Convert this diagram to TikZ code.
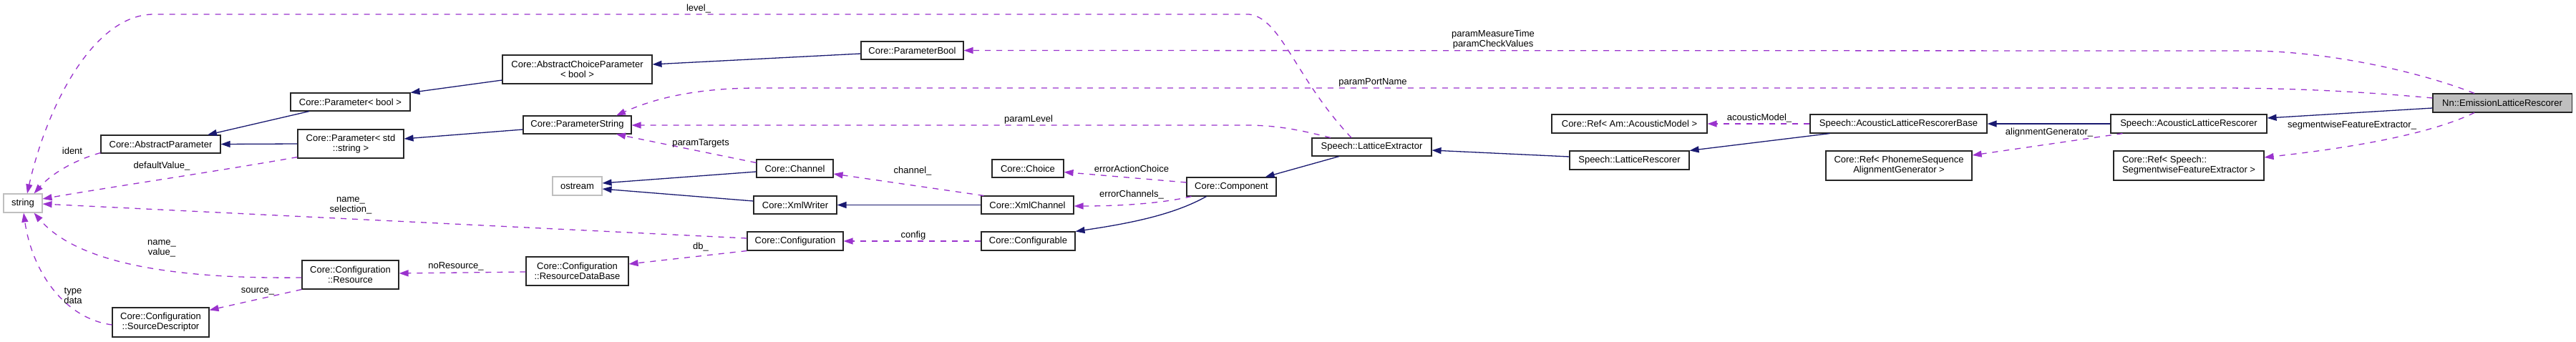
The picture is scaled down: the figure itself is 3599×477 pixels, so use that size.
\documentclass[tikz,border=0pt]{standalone}
\usepackage{fontspec}
\setmainfont{Liberation Sans}
\usetikzlibrary{arrows.meta,calc}
\definecolor{inhcol}{HTML}{191970}
\definecolor{usecol}{HTML}{9A32CD}
\begin{document}
\begin{tikzpicture}[x=1pt,y=-1pt,
  box/.style={draw=black!85,line width=1.1pt,fill=white,minimum height=25pt,inner sep=0pt,font=\fontsize{13}{14}\selectfont,align=center},
  extbox/.style={box,draw=black!25},
  inharrow/.style={draw=inhcol,line width=1.3pt,-{Triangle[length=13pt,width=9pt]}},
  usearrow/.style={draw=usecol,line width=1.3pt,dash pattern=on 8pt off 8pt,-{Triangle[length=13pt,width=9pt]}},
  lbl/.style={font=\fontsize{13}{14}\selectfont,inner sep=0pt,align=center},
]
\useasboundingbox (0,0) rectangle (3599,477);
% nodes
\node[extbox,minimum width=54pt,minimum height=26pt] (str) at (32,284) {string};
\node[box,minimum width=167pt] (AP) at (224.5,201.5) {Core::AbstractParameter};
\node[box,minimum width=135pt,minimum height=41pt] (SD) at (224.5,450.5) {Core::Configuration\\::SourceDescriptor};
\node[box,minimum width=167pt] (PB) at (489.5,142.5) {Core::Parameter< bool >};
\node[box,minimum width=148pt,minimum height=40pt] (PSS) at (490,201) {Core::Parameter< std\\::string >};
\node[box,minimum width=135pt,minimum height=40pt] (Res) at (489.5,384) {Core::Configuration\\::Resource};
\node[box,minimum width=209pt,minimum height=40pt] (ACP) at (806.5,97) {Core::AbstractChoiceParameter\\< bool >};
\node[box,minimum width=151pt] (PS) at (806.5,174.5) {Core::ParameterString};
\node[extbox,minimum width=69pt,minimum height=26pt] (ost) at (806.5,260) {ostream};
\node[box,minimum width=143pt,minimum height=40pt] (RDB) at (806.5,379) {Core::Configuration\\::ResourceDataBase};
\node[box,minimum width=143pt] (PBo) at (1274.5,70.5) {Core::ParameterBool};
\node[box,minimum width=107pt] (Chan) at (1110.5,235.5) {Core::Channel};
\node[box,minimum width=116pt] (XW) at (1111,286.5) {Core::XmlWriter};
\node[box,minimum width=134pt,minimum height=26pt] (Conf) at (1111,337) {Core::Configuration};
\node[box,minimum width=100pt] (Choi) at (1436,235.5) {Core::Choice};
\node[box,minimum width=129pt] (XC) at (1435.5,286.5) {Core::XmlChannel};
\node[box,minimum width=131pt,minimum height=26pt] (Cfg) at (1436.5,337) {Core::Configurable};
\node[box,minimum width=125pt,minimum height=26pt] (Comp) at (1720.5,261) {Core::Component};
\node[box,minimum width=167pt] (LE) at (1916.5,205.5) {Speech::LatticeExtractor};
\node[box,minimum width=217pt,minimum height=26pt] (RAM) at (2276.5,173) {Core::Ref< Am::AcousticModel >};
\node[box,minimum width=167pt,minimum height=26pt] (LR) at (2276.5,224) {Speech::LatticeRescorer};
\node[box,minimum width=247pt,minimum height=26pt] (ALRB) at (2652.5,173) {Speech::AcousticLatticeRescorerBase};
\node[box,minimum width=204pt,minimum height=41pt] (PSAG) at (2653,231.5) {Core::Ref< PhonemeSequence\\AlignmentGenerator >};
\node[box,minimum width=218pt,minimum height=26pt] (ALR) at (3058,173) {Speech::AcousticLatticeRescorer};
\node[box,minimum width=210pt,minimum height=41pt,align=left] (SFE) at (3058,231.5) {Core::Ref< Speech::\\SegmentwiseFeatureExtractor >};
\node[box,fill=black!25,minimum width=194pt,minimum height=26pt] (ELR) at (3496,144) {Nn::EmissionLatticeRescorer};

% inheritance
\draw[inharrow] ($(ACP.west)+(0,15)$) -- (PB.north east);
\draw[inharrow] ($(PBo.west)+(0,4.5)$) -- ($(ACP.east)+(0,-7)$);
\draw[inharrow] ($(PB.south)+(-57.5,0)$) -- ($(AP.north)+(65.5,0)$);
\draw[inharrow] (PSS.west) -- (AP.east);
\draw[inharrow] ($(PS.west)+(0,6.5)$) -- ($(PSS.east)+(0,-7)$);
\draw[inharrow] ($(Chan.west)+(0,4.5)$) -- ($(ost.east)+(0,-4)$);
\draw[inharrow] ($(XW.west)+(0,-5.5)$) -- ($(ost.east)+(0,4)$);
\draw[inharrow] (XC.west) -- (XW.east);
\draw[inharrow] ($(Comp.south west)+(28,0)$) .. controls (1640,300) and (1580,312) .. (Cfg.north east);
\draw[inharrow] ($(LE.south)+(-45.5,0)$) -- ($(Comp.north east)+(-16,0)$);
\draw[inharrow] ($(LR.west)+(0,-5)$) -- ($(LE.east)+(0,4.5)$);
\draw[inharrow] ($(ALRB.south west)+(28,0)$) -- (LR.north east);
\draw[inharrow] (ALR.west) -- (ALRB.east);
\draw[inharrow] ($(ELR.west)+(0,7)$) -- ($(ALR.east)+(0,-8)$);

% usage
\draw[usearrow] ($(LE.north)+(-28.5,0)$) .. controls (1810,110) and (1790,25) .. (1745,20) -- (215,20) .. controls (130,20) and (65,150) .. ($(str.north)+(6,0)$);
\draw[usearrow] ($(AP.south west)+(0,-1)$) .. controls (100,225) and (70,245) .. ($(str.north east)+(-12,0)$);
\draw[usearrow] ($(PSS.south west)+(0,-2)$) .. controls (300,240) and (150,262) .. ($(str.east)+(0,-6)$);
\draw[usearrow] ($(Conf.west)+(0,-4)$) -- ($(str.east)+(0,1)$);
\draw[usearrow] ($(Res.west)+(0,4)$) .. controls (250,390) and (110,370) .. ($(str.south east)+(-12,0)$);
\draw[usearrow] ($(SD.west)+(0,3.5)$) .. controls (90,445) and (45,380) .. ($(str.south)+(1,0)$);
\draw[usearrow] (Res.south west) -- ($(SD.north east)+(0,4)$);
\draw[usearrow] ($(RDB.west)+(0,1)$) -- ($(Res.east)+(0,-2)$);
\draw[usearrow] (Conf.south west) -- ($(RDB.east)+(0,-10)$);
\draw[usearrow] (Cfg.west) -- (Conf.east);
\draw[usearrow] ($(Chan.north west)+(0,5)$) -- ($(PS.south)+(54.5,0)$);
\draw[usearrow] ($(LE.north)+(-57.5,0)$) .. controls (1810,180) and (1780,175) .. (1740,175) -- ($(PS.east)+(0,0.5)$);
\draw[usearrow] ($(ELR.west)+(0,-7)$) .. controls (3300,128) and (3200,123) .. (3100,123) -- (1060,123) .. controls (980,123) and (920,135) .. ($(PS.north)+(54.5,0)$);
\draw[usearrow] ($(ELR.north)+(-39,0)$) .. controls (3380,100) and (3250,71) .. (3140,71) -- (PBo.east);
\draw[usearrow] ($(XC.north west)+(4,0)$) -- ($(Chan.east)+(0,7.5)$);
\draw[usearrow] ($(Comp.west)+(0,-6)$) -- ($(Choi.east)+(0,5)$);
\draw[usearrow] ($(Comp.south west)+(7,0)$) .. controls (1620,285) and (1560,288) .. ($(XC.east)+(0,1.5)$);
\draw[usearrow] (ALRB.west) -- (RAM.east);
\draw[usearrow] ($(ALR.south west)+(17,0)$) -- ($(PSAG.east)+(0,-14.5)$);
\draw[usearrow] ($(ELR.south)+(-39,0)$) .. controls (3400,185) and (3300,205) .. ($(SFE.east)+(0,-11.5)$);

% labels
\node[lbl] (lLevel) at (976,12) {level\_};
\node[lbl] (lMeas) at (2086,55) {paramMeasureTime\\paramCheckValues};
\node[lbl] (lPort) at (1918,115) {paramPortName};
\node[lbl] (lPLevel) at (1437,167) {paramLevel};
\node[lbl] (lTargets) at (979,200) {paramTargets};
\node[lbl] (lChan) at (1275,239) {channel\_};
\node[lbl] (lConfig) at (1276,329) {config};
\node[lbl] (lDb) at (979,345) {db\_};
\node[lbl] (lErrAC) at (1581,236) {errorActionChoice};
\node[lbl] (lErrCh) at (1581,272) {errorChannels\_};
\node[lbl] (lAM) at (2458,165) {acousticModel\_};
\node[lbl] (lAG) at (2863,185) {alignmentGenerator\_};
\node[lbl] (lSFE) at (3286,175) {segmentwiseFeatureExtractor\_};
\node[lbl] (lIdent) at (101,211) {ident};
\node[lbl] (lDef) at (226,232) {defaultValue\_};
\node[lbl] (lNameSel) at (490,287) {name\_\\selection\_};
\node[lbl] (lNameVal) at (226,347) {name\_\\value\_};
\node[lbl] (lType) at (102,413) {type\\data};
\node[lbl] (lSource) at (360,407) {source\_};
\node[lbl] (lNoRes) at (637,372) {noResource\_};
\end{tikzpicture}
\end{document}
